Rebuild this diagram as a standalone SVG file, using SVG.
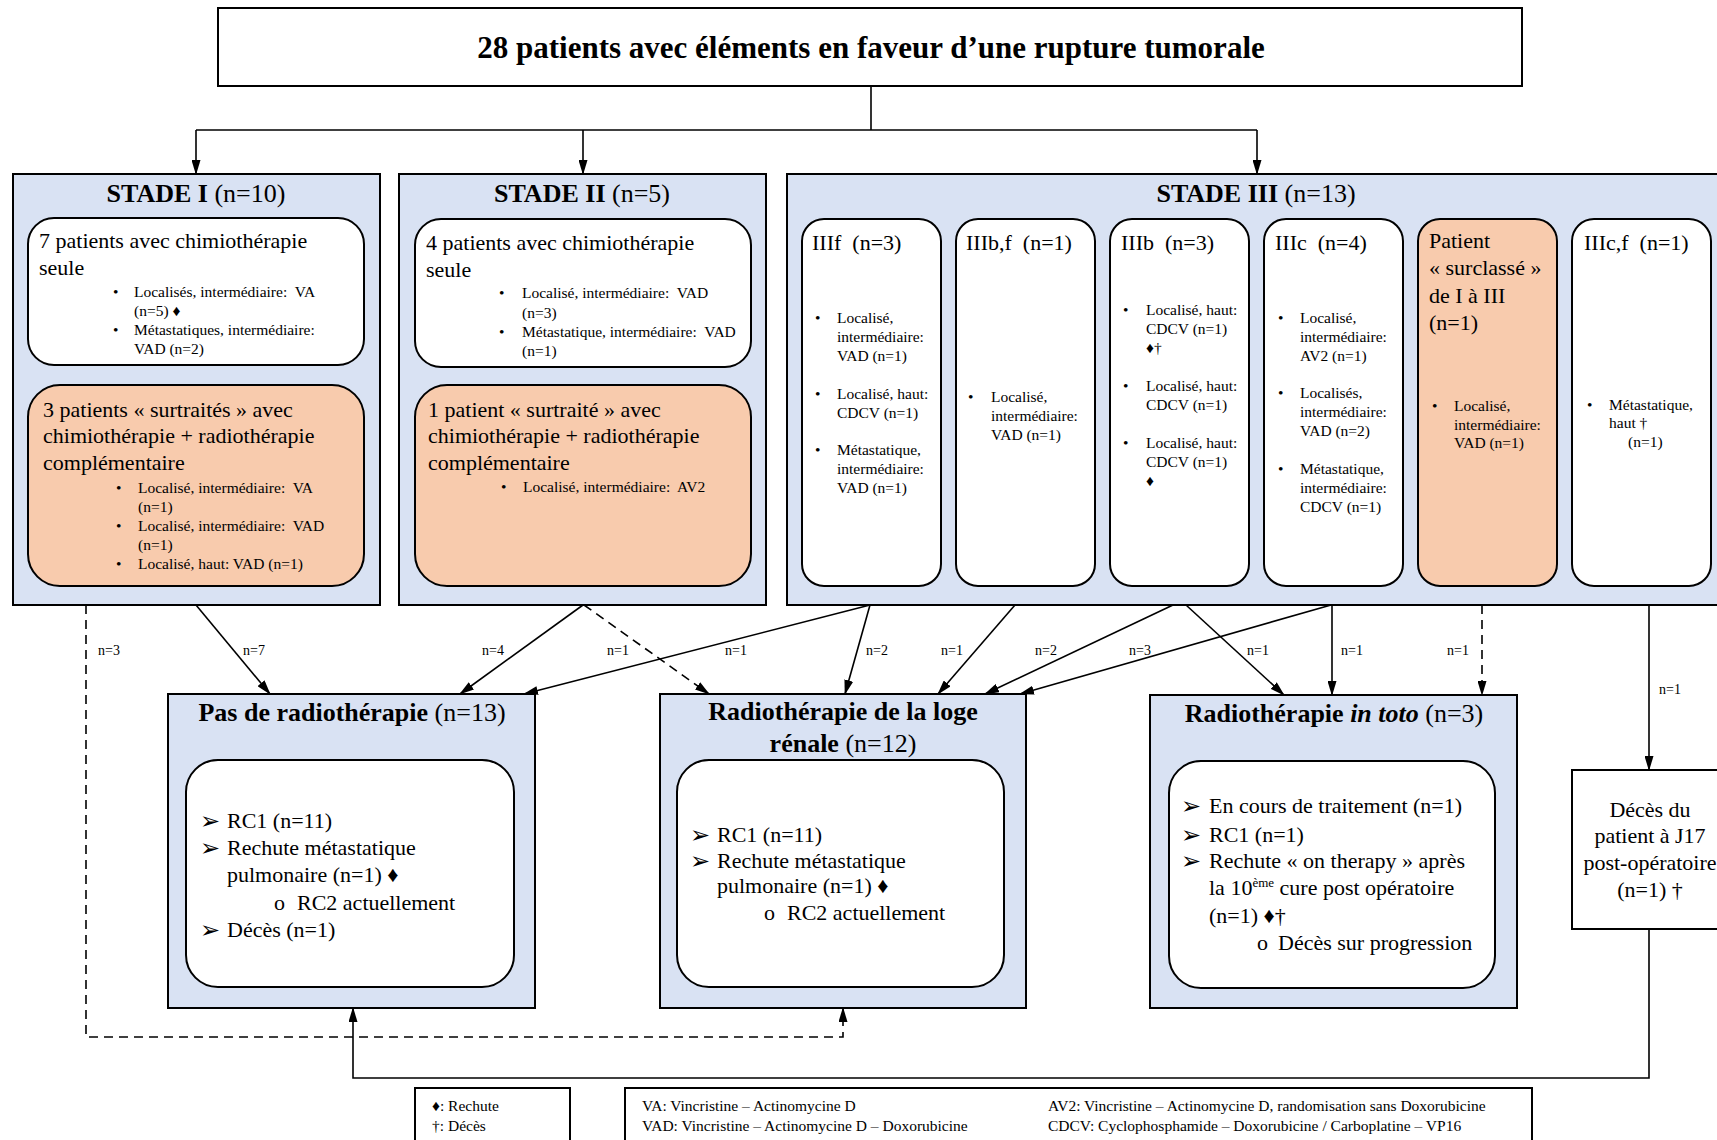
<svg xmlns="http://www.w3.org/2000/svg" width="1717" height="1140" viewBox="0 0 1717 1140">
<defs>
<style>
text{font-family:'Liberation Serif','Times New Roman',serif;fill:#000}
.box{fill:#D9E2F3;stroke:#000;stroke-width:2}
.wbox{fill:#fff;stroke:#000;stroke-width:2}
.obox{fill:#F8CBAD;stroke:#000;stroke-width:2}
.plain{fill:#fff;stroke:#000;stroke-width:2}
.t21{font-size:22px}
.t15{font-size:15.5px}
.h26{font-size:26px}
.b{font-weight:bold}
.lab{font-size:14px}
.leg{font-size:15.5px}
.ar{font-family:'DejaVu Sans',sans-serif;font-size:24px}
.conn{stroke:#000;stroke-width:1.6;fill:none}
.dash{stroke-dasharray:9,6}
</style>
<marker id="ah" markerUnits="userSpaceOnUse" markerWidth="15" markerHeight="9" refX="14" refY="4.5" orient="auto">
<path d="M0,0 L15,4.5 L0,9 z" fill="#000"/>
</marker>
</defs>

<g id="title">
<rect class="plain" x="218" y="8" width="1304" height="78"/>
<text x="871" y="58" text-anchor="middle" class="b" font-size="31">28 patients avec éléments en faveur d’une rupture tumorale</text>
</g>

<g id="stage1">
<rect class="box" x="13" y="174" width="367" height="431"/>
<text x="196" y="202" text-anchor="middle" class="h26"><tspan class="b">STADE I</tspan> (n=10)</text>
<rect class="wbox" x="28" y="218" width="336" height="147" rx="26"/>
<text class="t21" x="39" y="248">7 patients avec chimiothérapie</text>
<text class="t21" x="39" y="275">seule</text>
<text class="t15" x="113" y="297">•</text><text class="t15" x="134" y="297" xml:space="preserve">Localisés, intermédiaire:  VA</text>
<text class="t15" x="134" y="316">(n=5) ♦</text>
<text class="t15" x="113" y="335">•</text><text class="t15" x="134" y="335">Métastatiques, intermédiaire:</text>
<text class="t15" x="134" y="354">VAD (n=2)</text>
<rect class="obox" x="28" y="385" width="336" height="201" rx="32"/>
<text class="t21" x="43" y="417">3 patients « surtraités » avec</text>
<text class="t21" x="43" y="443">chimiothérapie + radiothérapie</text>
<text class="t21" x="43" y="470">complémentaire</text>
<text class="t15" x="116" y="493">•</text><text class="t15" x="138" y="493" xml:space="preserve">Localisé, intermédiaire:  VA</text>
<text class="t15" x="138" y="512">(n=1)</text>
<text class="t15" x="116" y="531">•</text><text class="t15" x="138" y="531" xml:space="preserve">Localisé, intermédiaire:  VAD</text>
<text class="t15" x="138" y="550">(n=1)</text>
<text class="t15" x="116" y="569">•</text><text class="t15" x="138" y="569">Localisé, haut: VAD (n=1)</text>
</g>

<g id="stage2">
<rect class="box" x="399" y="174" width="367" height="431"/>
<text x="582" y="202" text-anchor="middle" class="h26"><tspan class="b">STADE II</tspan> (n=5)</text>
<rect class="wbox" x="415" y="219" width="336" height="148" rx="26"/>
<text class="t21" x="426" y="250">4 patients avec chimiothérapie</text>
<text class="t21" x="426" y="277">seule</text>
<text class="t15" x="499" y="298">•</text><text class="t15" x="522" y="298" xml:space="preserve">Localisé, intermédiaire:  VAD</text>
<text class="t15" x="522" y="318">(n=3)</text>
<text class="t15" x="499" y="337">•</text><text class="t15" x="522" y="337" xml:space="preserve">Métastatique, intermédiaire:  VAD</text>
<text class="t15" x="522" y="356">(n=1)</text>
<rect class="obox" x="415" y="385" width="336" height="201" rx="32"/>
<text class="t21" x="428" y="417">1 patient « surtraité » avec</text>
<text class="t21" x="428" y="443">chimiothérapie + radiothérapie</text>
<text class="t21" x="428" y="470">complémentaire</text>
<text class="t15" x="501" y="492">•</text><text class="t15" x="523" y="492" xml:space="preserve">Localisé, intermédiaire:  AV2</text>
</g>

<g id="stage3">
<rect class="box" x="787" y="174" width="945" height="431"/>
<text x="1256" y="202" text-anchor="middle" class="h26"><tspan class="b">STADE III</tspan> (n=13)</text>
</g>

<g id="IIIf">
<rect class="wbox" x="802" y="219" width="139" height="367" rx="22"/>
<text class="t21" x="812" y="250" xml:space="preserve">IIIf  (n=3)</text>
<text class="t15" x="815" y="323">•</text><text class="t15" x="837" y="323">Localisé,</text>
<text class="t15" x="837" y="342">intermédiaire:</text>
<text class="t15" x="837" y="361">VAD (n=1)</text>
<text class="t15" x="815" y="399">•</text><text class="t15" x="837" y="399">Localisé, haut:</text>
<text class="t15" x="837" y="418">CDCV (n=1)</text>
<text class="t15" x="815" y="455">•</text><text class="t15" x="837" y="455">Métastatique,</text>
<text class="t15" x="837" y="474">intermédiaire:</text>
<text class="t15" x="837" y="493">VAD (n=1)</text>
</g>

<g id="IIIbf">
<rect class="wbox" x="956" y="219" width="139" height="367" rx="22"/>
<text class="t21" x="966" y="250" xml:space="preserve">IIIb,f  (n=1)</text>
<text class="t15" x="968" y="402">•</text><text class="t15" x="991" y="402">Localisé,</text>
<text class="t15" x="991" y="421">intermédiaire:</text>
<text class="t15" x="991" y="440">VAD (n=1)</text>
</g>

<g id="IIIb">
<rect class="wbox" x="1110" y="219" width="139" height="367" rx="22"/>
<text class="t21" x="1121" y="250" xml:space="preserve">IIIb  (n=3)</text>
<text class="t15" x="1123" y="315">•</text><text class="t15" x="1146" y="315">Localisé, haut:</text>
<text class="t15" x="1146" y="334">CDCV (n=1)</text>
<text class="t15" x="1146" y="353">♦†</text>
<text class="t15" x="1123" y="391">•</text><text class="t15" x="1146" y="391">Localisé, haut:</text>
<text class="t15" x="1146" y="410">CDCV (n=1)</text>
<text class="t15" x="1123" y="448">•</text><text class="t15" x="1146" y="448">Localisé, haut:</text>
<text class="t15" x="1146" y="467">CDCV (n=1)</text>
<text class="t15" x="1146" y="486">♦</text>
</g>

<g id="IIIc">
<rect class="wbox" x="1264" y="219" width="139" height="367" rx="22"/>
<text class="t21" x="1275" y="250" xml:space="preserve">IIIc  (n=4)</text>
<text class="t15" x="1278" y="323">•</text><text class="t15" x="1300" y="323">Localisé,</text>
<text class="t15" x="1300" y="342">intermédiaire:</text>
<text class="t15" x="1300" y="361">AV2 (n=1)</text>
<text class="t15" x="1278" y="398">•</text><text class="t15" x="1300" y="398">Localisés,</text>
<text class="t15" x="1300" y="417">intermédiaire:</text>
<text class="t15" x="1300" y="436">VAD (n=2)</text>
<text class="t15" x="1278" y="474">•</text><text class="t15" x="1300" y="474">Métastatique,</text>
<text class="t15" x="1300" y="493">intermédiaire:</text>
<text class="t15" x="1300" y="512">CDCV (n=1)</text>
</g>

<g id="surclasse">
<rect class="obox" x="1418" y="219" width="139" height="367" rx="22"/>
<text class="t21" x="1429" y="248">Patient</text>
<text class="t21" x="1429" y="275">« surclassé »</text>
<text class="t21" x="1429" y="303">de I à III</text>
<text class="t21" x="1429" y="330">(n=1)</text>
<text class="t15" x="1432" y="411">•</text><text class="t15" x="1454" y="411">Localisé,</text>
<text class="t15" x="1454" y="430">intermédiaire:</text>
<text class="t15" x="1454" y="448">VAD (n=1)</text>
</g>

<g id="IIIcf">
<rect class="wbox" x="1572" y="219" width="139" height="367" rx="22"/>
<text class="t21" x="1584" y="250" xml:space="preserve">IIIc,f  (n=1)</text>
<text class="t15" x="1587" y="410">•</text><text class="t15" x="1609" y="410">Métastatique,</text>
<text class="t15" x="1609" y="428">haut †</text>
<text class="t15" x="1628" y="447">(n=1)</text>
</g>

<g id="pasradio">
<rect class="box" x="168" y="694" width="367" height="314"/>
<text x="352" y="721" text-anchor="middle" class="h26"><tspan class="b">Pas de radiothérapie</tspan> (n=13)</text>
<rect class="wbox" x="186" y="760" width="328" height="227" rx="32"/>
<text class="ar" x="200" y="829">➢</text><text class="t21" x="227" y="828">RC1 (n=11)</text>
<text class="ar" x="200" y="856">➢</text><text class="t21" x="227" y="855">Rechute métastatique</text>
<text class="t21" x="227" y="882">pulmonaire (n=1) ♦</text>
<text class="t21" x="274" y="910">o</text><text class="t21" x="297" y="910">RC2 actuellement</text>
<text class="ar" x="200" y="938">➢</text><text class="t21" x="227" y="937">Décès (n=1)</text>
</g>

<g id="loge">
<rect class="box" x="660" y="694" width="366" height="314"/>
<text x="843" y="720" text-anchor="middle" class="h26 b">Radiothérapie de la loge</text>
<text x="843" y="752" text-anchor="middle" class="h26"><tspan class="b">rénale</tspan> (n=12)</text>
<rect class="wbox" x="677" y="760" width="327" height="227" rx="32"/>
<text class="ar" x="690" y="843">➢</text><text class="t21" x="717" y="842">RC1 (n=11)</text>
<text class="ar" x="690" y="869">➢</text><text class="t21" x="717" y="868">Rechute métastatique</text>
<text class="t21" x="717" y="893">pulmonaire (n=1) ♦</text>
<text class="t21" x="764" y="920">o</text><text class="t21" x="787" y="920">RC2 actuellement</text>
</g>

<g id="intoto">
<rect class="box" x="1150" y="695" width="367" height="313"/>
<text x="1334" y="722" text-anchor="middle" class="h26"><tspan class="b">Radiothérapie </tspan><tspan class="b" font-style="italic">in toto</tspan> (n=3)</text>
<rect class="wbox" x="1169" y="761" width="326" height="227" rx="32"/>
<text class="ar" x="1181" y="814">➢</text><text class="t21" x="1209" y="813">En cours de traitement (n=1)</text>
<text class="ar" x="1181" y="843">➢</text><text class="t21" x="1209" y="842">RC1 (n=1)</text>
<text class="ar" x="1181" y="869">➢</text><text class="t21" x="1209" y="868">Rechute « on therapy » après</text>
<text class="t21" x="1209" y="895">la 10<tspan font-size="13" dy="-8">ème</tspan><tspan dy="8"> cure post opératoire</tspan></text>
<text class="t21" x="1209" y="923">(n=1) ♦†</text>
<text class="t21" x="1257" y="950">o</text><text class="t21" x="1278" y="950">Décès sur progression</text>
</g>

<g id="deces">
<rect class="plain" x="1572" y="770" width="160" height="159"/>
<text class="t21" x="1650" y="817" text-anchor="middle">Décès du</text>
<text class="t21" x="1650" y="843" text-anchor="middle">patient à J17</text>
<text class="t21" x="1650" y="870" text-anchor="middle">post-opératoire</text>
<text class="t21" x="1650" y="897" text-anchor="middle">(n=1) †</text>
</g>

<g id="connectors">
<polyline class="conn" points="871,86 871,130"/>
<polyline class="conn" points="196,130 1257,130"/>
<line class="conn" x1="196" y1="130" x2="196" y2="174" marker-end="url(#ah)"/>
<line class="conn" x1="583" y1="130" x2="583" y2="174" marker-end="url(#ah)"/>
<line class="conn" x1="1257" y1="130" x2="1257" y2="174" marker-end="url(#ah)"/>

<line class="conn" x1="196" y1="605" x2="270" y2="694" marker-end="url(#ah)"/>
<line class="conn" x1="583" y1="605" x2="460" y2="694" marker-end="url(#ah)"/>
<line class="conn dash" x1="584" y1="605" x2="709" y2="694" marker-end="url(#ah)"/>
<line class="conn" x1="870" y1="605" x2="524" y2="694" marker-end="url(#ah)"/>
<line class="conn" x1="870" y1="605" x2="845" y2="694" marker-end="url(#ah)"/>
<line class="conn" x1="1015" y1="605" x2="938" y2="694" marker-end="url(#ah)"/>
<line class="conn" x1="1173" y1="605" x2="985" y2="694" marker-end="url(#ah)"/>
<line class="conn" x1="1186" y1="605" x2="1284" y2="695" marker-end="url(#ah)"/>
<line class="conn" x1="1331" y1="605" x2="1020" y2="694" marker-end="url(#ah)"/>
<line class="conn" x1="1332" y1="605" x2="1332" y2="695" marker-end="url(#ah)"/>
<line class="conn dash" x1="1482" y1="605" x2="1482" y2="695" marker-end="url(#ah)"/>
<line class="conn" x1="1649" y1="605" x2="1649" y2="770" marker-end="url(#ah)"/>

<polyline class="conn" points="1649,929 1649,1078 353,1078 353,1008" marker-end="url(#ah)"/>
<polyline class="conn dash" points="86,605 86,1037 843,1037 843,1008" marker-end="url(#ah)"/>

<text class="lab" x="98" y="655">n=3</text>
<text class="lab" x="243" y="655">n=7</text>
<text class="lab" x="482" y="655">n=4</text>
<text class="lab" x="607" y="655">n=1</text>
<text class="lab" x="725" y="655">n=1</text>
<text class="lab" x="866" y="655">n=2</text>
<text class="lab" x="941" y="655">n=1</text>
<text class="lab" x="1035" y="655">n=2</text>
<text class="lab" x="1129" y="655">n=3</text>
<text class="lab" x="1247" y="655">n=1</text>
<text class="lab" x="1341" y="655">n=1</text>
<text class="lab" x="1447" y="655">n=1</text>
<text class="lab" x="1659" y="694">n=1</text>
</g>

<g id="legend1">
<rect class="plain" x="415" y="1088" width="155" height="70"/>
<text class="leg" x="432" y="1111">♦: Rechute</text>
<text class="leg" x="432" y="1131">†: Décès</text>
</g>
<g id="legend2">
<rect class="plain" x="625" y="1088" width="907" height="70"/>
<text class="leg" x="642" y="1111">VA: Vincristine – Actinomycine D</text>
<text class="leg" x="642" y="1131">VAD: Vincristine – Actinomycine D – Doxorubicine</text>
<text class="leg" x="1048" y="1111">AV2: Vincristine – Actinomycine D, randomisation sans Doxorubicine</text>
<text class="leg" x="1048" y="1131">CDCV: Cyclophosphamide – Doxorubicine / Carboplatine – VP16</text>
</g>
</svg>
